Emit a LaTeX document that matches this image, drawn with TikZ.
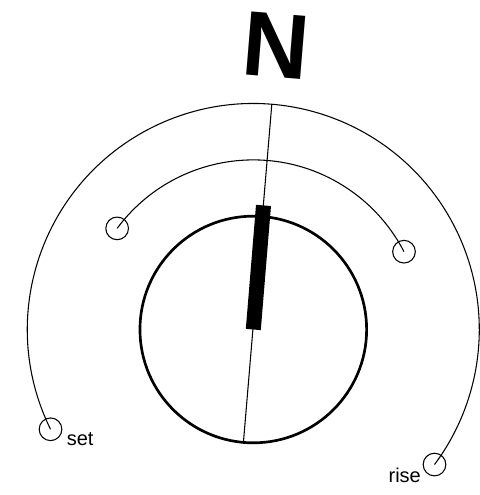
\documentclass[tikz,border=0pt]{standalone}
\usepackage{fontspec}
\setmainfont{Liberation Sans}
\begin{document}
\begin{tikzpicture}[x=0.75pt, y=0.75pt, every node/.style={font=\fontsize{15}{18}\selectfont},
  pin/.style={draw, circle, line width=0.8pt, minimum size=17pt, inner sep=0pt},
  track/.style={line width=0.8pt}]
\useasboundingbox (-253.3,-165.5) rectangle (225.7,329.5);
\coordinate (c) at (0,0);
% dial and needle
\node[draw, circle, line width=2pt, minimum size=170pt, inner sep=0pt] (dial) at (c) {};
\coordinate (top) at (85.3:226);
\coordinate (bartip) at (85.3:124.5);
\draw[track] (dial.265.3) -- (top);
\draw[line width=11.25pt] (c) -- (bartip);
\node[font=\fontsize{69}{80}\selectfont\bfseries, rotate=-4.7] (north) at (85.3:285) {N};
% sun paths
\node[pin] (set) at (206.2:226) {};
\node[pin] (rise) at (323.3:226) {};
\node[pin] (lpin) at (143.4:169.6) {};
\node[pin] (rpin) at (27.3:169.6) {};
\draw[track] (set.center) arc[start angle=206.2, end angle=-36.7, radius=226];
\draw[track] (lpin.center) arc[start angle=143.4, end angle=27.3, radius=169.6];
\node[anchor=base west, inner sep=0pt] (setlabel) at ([shift={(16,-16)}]set.center) {set};
\node[anchor=base east, inner sep=0pt] (riselabel) at ([shift={(-13.4,-18.3)}]rise.center) {rise};
\end{tikzpicture}
\end{document}
